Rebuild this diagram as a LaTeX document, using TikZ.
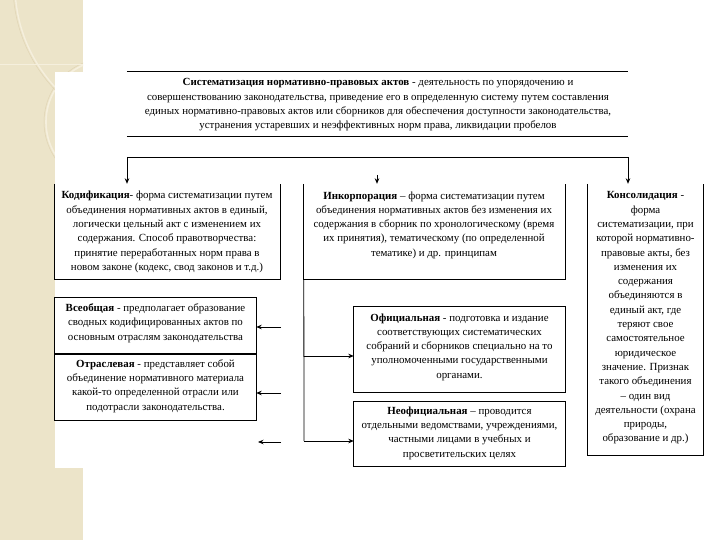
\documentclass[tikz,border=0pt]{standalone}
\usepackage{fontspec}
\setmainfont{Liberation Serif}
\usetikzlibrary{arrows.meta,calc}
\definecolor{beige}{RGB}{236,228,201}
\definecolor{arcc}{RGB}{245,239,221}
\definecolor{arcd}{RGB}{224,212,180}
\begin{document}
\begin{tikzpicture}[x=1pt,y=-1pt,
  txt/.style={align=center,inner sep=0pt,font=\fontsize{10.9}{14.3}\selectfont},
  box/.style={draw=none,inner sep=0pt},
  ln/.style={line width=0.8pt,black},
  arr/.style={ln,-{Stealth[length=5.5pt,width=4.5pt]}}]
\useasboundingbox (0,0) rectangle (720,540);
% slide background
\fill[white] (0,0) rectangle (720,540);
\fill[beige] (0,0) rectangle (83,540);
\begin{scope}
  \clip (0,0) rectangle (83,540);
  \draw[arcc, line width=1.6pt] (108,122) circle (62);
  \draw[arcd, line width=0.5pt] (108,122) circle (64);
  \draw[arcc, line width=1.4pt] (118,122) circle (46);
  \draw[arcc, line width=1.4pt] (165,-15) circle (150);
  \draw[arcd, line width=0.5pt] (165,-15) circle (152);
  \draw[arcc, line width=0.8pt] (0,64) -- (83,64);
\end{scope}
\fill[white] (55,72) rectangle (712,468);

% boxes
\node[box, minimum width=501pt, minimum height=64pt] (title) at (377.5,104) {};
\node[box, minimum width=225pt, minimum height=95pt] (cod) at (167.5,231.5) {};
\node[box, minimum width=261pt, minimum height=95pt] (inc) at (434.5,231.5) {};
\node[box, minimum width=115pt, minimum height=271pt] (cons) at (645.5,319.5) {};
\node[box, minimum width=201pt, minimum height=56pt] (vse) at (155.5,326) {};
\node[box, minimum width=201pt, minimum height=66pt] (otr) at (155.5,387) {};
\node[box, minimum width=211pt, minimum height=85pt] (off) at (459.5,349.5) {};
\node[box, minimum width=211pt, minimum height=64pt] (unoff) at (459.5,434) {};

\draw[ln] (title.north west) -- (title.north east);
\draw[ln] (title.south west) -- (title.south east);
\draw[ln] (cod.north west) -- (cod.south west) -- (cod.south east) -- (cod.north east);
\draw[ln] (inc.north west) -- (inc.south west) -- (inc.south east) -- (inc.north east);
\draw[ln] (cons.north west) -- (cons.south west) -- (cons.south east) -- (cons.north east);
\draw[ln] (vse.south west) rectangle (vse.north east);
\draw[ln] (otr.south west) rectangle (otr.north east);
\draw[ln] (off.south west) rectangle (off.north east);
\draw[ln] (unoff.south west) rectangle (unoff.north east);

% texts
\node[txt] (titleT) at (378,105) {\textbf{Систематизация нормативно-правовых  актов}  -   деятельность по упорядочению и\\
совершенствованию законодательства, приведение его в определенную систему путем составления\\
единых нормативно-правовых актов или сборников для обеспечения доступности законодательства,\\
устранения устаревших и неэффективных норм права, ликвидации пробелов};
\node[txt] (codT) at (167,232) {\textbf{Кодификация}- форма систематизации путем\\
объединения нормативных актов в единый,\\
логически цельный акт с изменением их\\
содержания. Способ правотворчества:\\
принятие переработанных норм права в\\
новом законе (кодекс, свод законов и т.д.)};
\node[txt] (incT) at (434,225) {\textbf{Инкорпорация} – форма систематизации путем\\
объединения нормативных актов без изменения их\\
содержания в сборник по хронологическому (время\\
их принятия), тематическому (по определенной\\
тематике) и др. принципам};
\node[txt] (consT) at (645.5,318) {\textbf{Консолидация} -\\
форма\\
систематизации, при\\
которой нормативно-\\
правовые акты, без\\
изменения их\\
содержания\\
объединяются в\\
единый акт, где\\
теряют свое\\
самостоятельное\\
юридическое\\
значение. Признак\\
такого объединения\\
– один вид\\
деятельности (охрана\\
природы,\\
образование и др.)};
\node[txt] (vseT) at (155.5,323) {\textbf{Всеобщая} - предполагает образование\\
сводных кодифицированных актов по\\
основным отраслям законодательства};
\node[txt] (otrT) at (155.5,386) {\textbf{Отраслевая} - представляет собой\\
объединение нормативного материала\\
какой-то определенной отрасли или\\
подотрасли законодательства.};
\node[txt] (offT) at (459.5,347) {\textbf{Официальная} - подготовка и издание\\
соответствующих систематических\\
собраний и сборников специально на то\\
уполномоченными государственными\\
органами.};
\node[txt] (unoffT) at (459.5,433) {\textbf{Неофициальная} – проводится\\
отдельными ведомствами, учреждениями,\\
частными лицами в учебных и\\
просветительских целях};

% connectors
\coordinate (brL) at (127,157);
\coordinate (brR) at (628,157);
\draw[ln] (brL) -- (brR);
\draw[arr] (brL) -- (brL |- cod.north);
\draw[arr] (brR) -- (brR |- cons.north);
\coordinate (midA) at (377,175);
\draw[arr] (midA) -- (midA |- inc.north);

\coordinate (a1) at (281,327);
\coordinate (a2) at (281,393);
\coordinate (a3) at (281,442);
\draw[arr] (a1) -- (a1 -| vse.east);
\draw[arr] (a2) -- (a2 -| otr.east);
\draw[arr] (a3) -- (258,442);

\coordinate (b1) at (304,356);
\coordinate (b2) at (304,441);
\draw[ln] (inc.south west) -- (b2);
\draw[arr] (b1) -- (b1 -| off.west);
\draw[arr] (b2) -- (b2 -| unoff.west);
\end{tikzpicture}
\end{document}
